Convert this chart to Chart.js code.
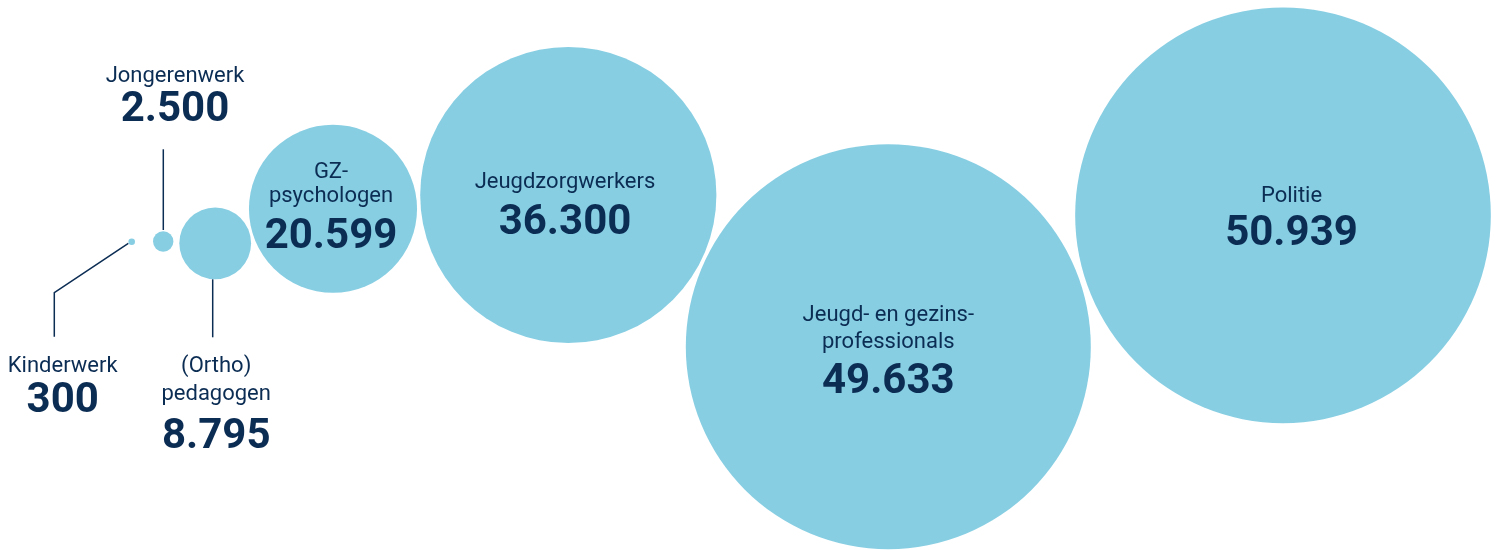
<!DOCTYPE html>
<html>
<head>
<meta charset="utf-8">
<script src="https://cdn.jsdelivr.net/npm/chart.js@4.4.1/dist/chart.umd.min.js"></script>
<style>
  html, body { margin: 0; padding: 0; background: #fff; }
  #wrap { width: 1501px; height: 550px; position: relative; }
</style>
</head>
<body>
<div id="wrap"><canvas id="bubbles"></canvas></div>
<script>
const categories = ['Kinderwerk', 'Jongerenwerk', '(Ortho)pedagogen', 'GZ-psychologen',
  'Jeugdzorgwerkers', 'Jeugd- en gezinsprofessionals', 'Politie'];
const workers = [300, 2500, 8795, 20599, 36300, 49633, 50939];
const posX = [131.7, 163.2, 215.2, 333, 568.3, 888.3, 1283];
const posY = [241.7, 241.5, 243.3, 208.8, 195, 346.7, 215.3];
const nameLines = [['Kinderwerk'], ['Jongerenwerk'], ['(Ortho)', 'pedagogen'], ['GZ-', 'psychologen'],
  ['Jeugdzorgwerkers'], ['Jeugd- en gezins-', 'professionals'], ['Politie']];

const BUBBLE = '#87cee3';
const INK = '#0b2c53';
const R_PER_WORKER = 0.00408;

// label placement relative to bubble centre
const labelLayout = [
  { dx: -69, names: [130], value: 170, leader: [[-3.4, 1.6], [-77.4, 51], [-77.4, 95]] },
  { dx: 11.8, names: [-159.8], value: -120.8, leader: [[0.1, -92.2], [0.1, -11.5]] },
  { dx: 1, names: [128.4, 156.7], value: 204.7, leader: [[-2.5, 36], [-2.5, 94]] },
  { dx: -2, names: [-30.8, -7.1], value: 39.5 },
  { dx: -3.3, names: [-7], value: 39 },
  { dx: 0, names: [-26, 1.3], value: 46.3 },
  { dx: 8.5, names: [-13.6], value: 29.7 },
];

function fmt(n) {
  return String(n).replace(/\B(?=(\d{3})+(?!\d))/g, '.');
}

const labelPlugin = {
  id: 'bubbleLabels',
  afterDatasetsDraw(chart) {
    const ctx = chart.ctx;
    const meta = chart.getDatasetMeta(0);
    ctx.save();
    meta.data.forEach((el, i) => {
      const lay = labelLayout[i];
      if (lay.leader) {
        ctx.strokeStyle = INK;
        ctx.lineWidth = 1.5;
        ctx.beginPath();
        lay.leader.forEach(([lx, ly], j) => {
          if (j === 0) ctx.moveTo(el.x + lx, el.y + ly);
          else ctx.lineTo(el.x + lx, el.y + ly);
        });
        ctx.stroke();
      }
      ctx.fillStyle = INK;
      ctx.textAlign = 'center';
      ctx.textBaseline = 'alphabetic';
      ctx.font = '400 22px Roboto';
      nameLines[i].forEach((line, j) => {
        ctx.fillText(line, el.x + lay.dx, el.y + lay.names[j]);
      });
      ctx.font = '700 42px Roboto';
      ctx.fillText(fmt(workers[i]), el.x + lay.dx, el.y + lay.value);
    });
    ctx.restore();
  }
};

new Chart(document.getElementById('bubbles'), {
  type: 'bubble',
  data: {
    labels: categories,
    datasets: [{
      data: workers.map((v, i) => ({ x: posX[i], y: posY[i], r: Math.max(3.3, v * R_PER_WORKER) })),
      backgroundColor: BUBBLE,
      borderWidth: 0,
      hoverRadius: 0,
      clip: false,
    }],
  },
  options: {
    responsive: true,
    maintainAspectRatio: false,
    animation: false,
    events: [],
    layout: { padding: 0, autoPadding: false },
    plugins: { legend: { display: false }, tooltip: { enabled: false } },
    scales: {
      x: { type: 'linear', min: 0, max: 1501, display: false },
      y: { type: 'linear', min: 0, max: 550, reverse: true, display: false },
    },
  },
  plugins: [labelPlugin],
});
</script>
</body>
</html>
